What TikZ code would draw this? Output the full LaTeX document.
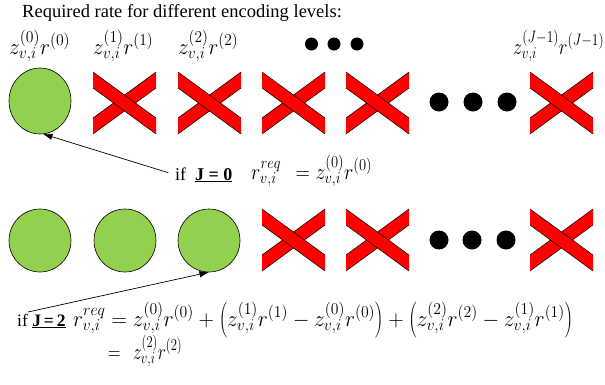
\documentclass[tikz,border=0pt]{standalone}
\usepackage{fix-cm}
\usepackage{fontspec}
\setmainfont{Liberation Serif}
\usepackage{graphicx}
\usetikzlibrary{shapes.geometric,arrows.meta}
\definecolor{lgreen}{HTML}{92D050}
\DeclareMathSizes{22.5}{22.5}{16.5}{12}
\newcommand{\mlab}[2]{\resizebox{#1}{\height}{\fontsize{22.5}{25}\selectfont$#2$}}
\newcommand{\txt}{\fontsize{18}{20}\selectfont}
\tikzset{
  circ/.style={ellipse, draw=black, line width=0.6pt, fill=lgreen, minimum width=62pt, minimum height=65pt, inner sep=0pt},
  bigdot/.style={circle, fill=black, minimum size=19pt, inner sep=0pt},
  smalldot/.style={circle, fill=black, minimum size=13pt, inner sep=0pt},
  lbl/.style={anchor=base west, inner sep=0pt},
  arr/.style={-{Triangle[length=9pt,width=6pt]}, line width=0.7pt},
  redx/.pic={
    \fill[red] (0,46) -- (0,62) -- (63,16) -- (63,0) -- cycle;
    \draw[black, line width=0.5pt] (0,46) -- (63,0) (0,62) -- (63,16);
    \fill[red] (0,0) -- (0,16) -- (63,62) -- (63,46) -- cycle;
    \draw[black, line width=0.5pt] (0,0) -- (63,46) (0,16) -- (63,62);
  }
}
\begin{document}
\begin{tikzpicture}[x=1pt,y=-1pt]
\useasboundingbox (0,0) rectangle (605,384);
% title
\node[lbl] (title) at (22,17) {\fontsize{18.5}{20}\selectfont Required rate for different encoding levels:};
% top labels
\node[lbl] (l0) at (9,54) {\mlab{61pt}{z^{(0)}_{v,i}r^{(0)}}};
\node[lbl] (l1) at (93,54) {\mlab{60pt}{z^{(1)}_{v,i}r^{(1)}}};
\node[lbl] (l2) at (178,54) {\mlab{60pt}{z^{(2)}_{v,i}r^{(2)}}};
\node[lbl] (lJ) at (513,54) {\mlab{91pt}{z^{(J-1)}_{v,i}r^{(J-1)}}};
\node[smalldot] (s1) at (311.5,44) {};
\node[smalldot] (s2) at (334,44) {};
\node[smalldot] (s3) at (357,44) {};
% row 1
\node[circ, minimum height=66pt] (a1) at (40,101) {};
\pic at (93,72) {redx};
\pic at (178,72) {redx};
\pic at (262,72) {redx};
\pic at (346,72) {redx};
\node[bigdot] (d1) at (439,102) {};
\node[bigdot] (d2) at (473,102) {};
\node[bigdot] (d3) at (507,102) {};
\pic at (530,72) {redx};
% J=0 line
\node[lbl] (if0) at (175,180) {\txt if\ \ \underline{\textbf{J = 0}}};
\node[lbl] (m0) at (251,179) {\mlab{121pt}{r^{req}_{v,i}\;\, = z^{(0)}_{v,i}r^{(0)}}};
\draw[arr, shorten <=7pt] (if0.west) -- (a1.-84);
% row 2
\node[circ, minimum height=63pt] (b1) at (40,240.5) {};
\node[circ, minimum height=63pt] (b2) at (125,240.5) {};
\node[circ, minimum height=63pt] (b3) at (209,240.5) {};
\pic at (262,209) {redx};
\pic at (346,209) {redx};
\node[bigdot] (e1) at (439,240) {};
\node[bigdot] (e2) at (472,240) {};
\node[bigdot] (e3) at (506,240) {};
\pic at (530,209) {redx};
% J=2 lines
\node[lbl] (if2) at (17,326) {\fontsize{17.5}{20}\selectfont if\ \underline{\textbf{J\,=\,2}}};
\node[lbl] (m2) at (73,326) {\mlab{500pt}{r^{req}_{v,i} = z^{(0)}_{v,i}r^{(0)} + \left(z^{(1)}_{v,i}r^{(1)} - z^{(0)}_{v,i}r^{(0)}\right) + \left(z^{(2)}_{v,i}r^{(2)} - z^{(1)}_{v,i}r^{(1)}\right)}};
\node[lbl] (m3) at (108,359) {\mlab{74pt}{=\;\, z^{(2)}_{v,i}r^{(2)}}};
\coordinate (t2) at (28,312);
\draw[arr] (t2) -- (b3.-91);
\end{tikzpicture}
\end{document}
